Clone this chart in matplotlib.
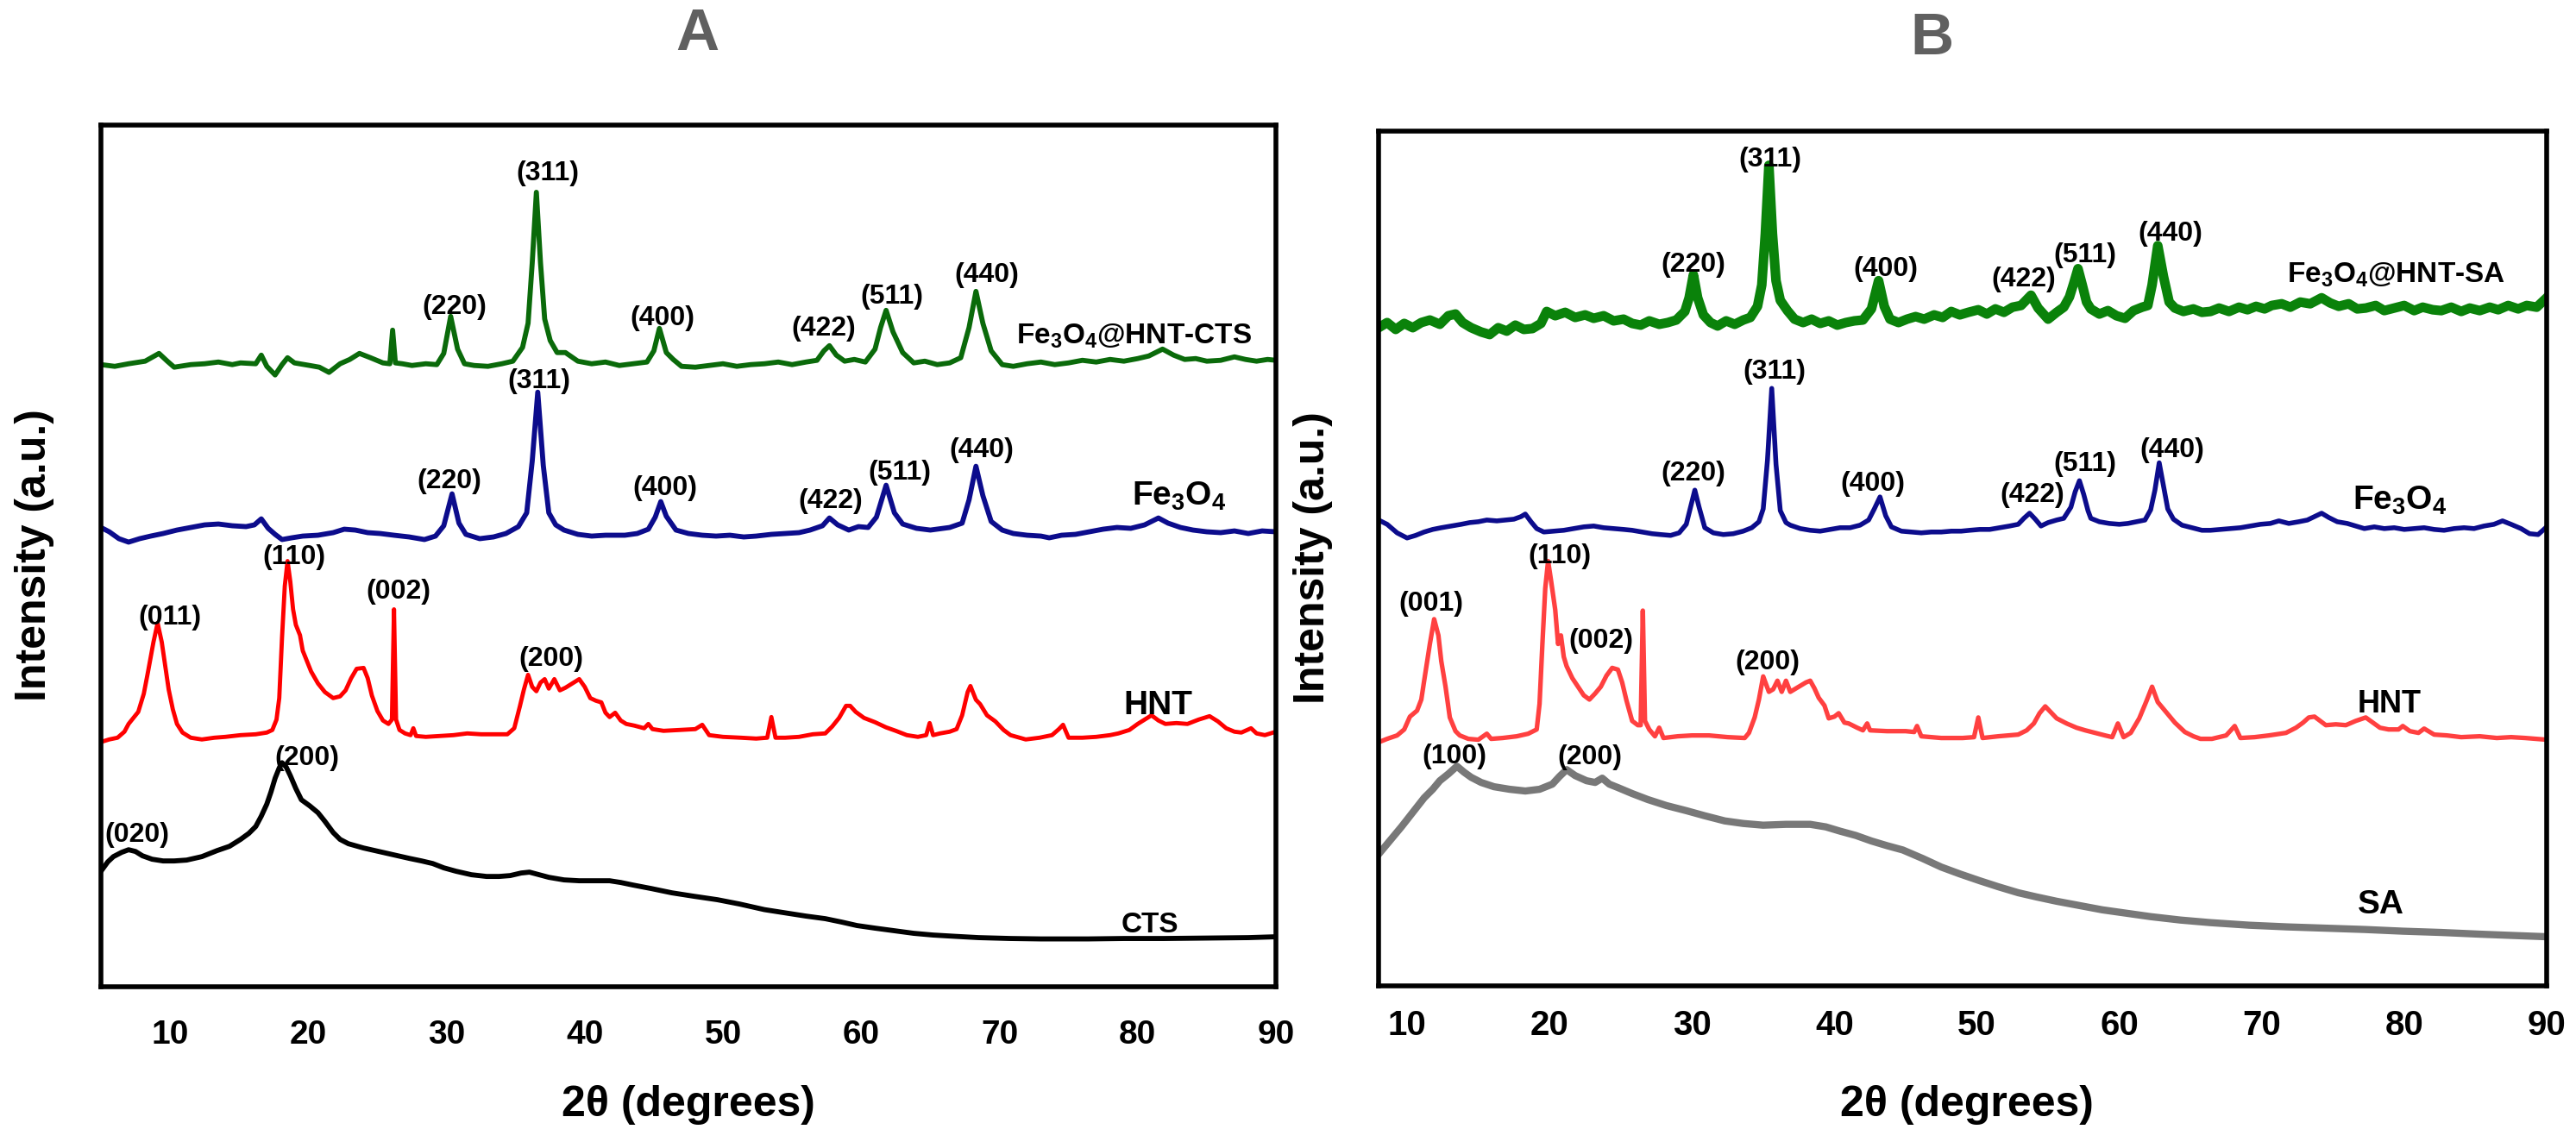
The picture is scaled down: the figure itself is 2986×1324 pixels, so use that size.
import numpy as np
import matplotlib
matplotlib.use('Agg')
import matplotlib.pyplot as plt

plt.rcParams['font.family'] = ['Liberation Sans', 'DejaVu Sans']
plt.rcParams['font.weight'] = 'bold'
plt.rcParams['mathtext.default'] = 'regular'

# ---- panel A : (2theta, intensity a.u.) ----
green_A = np.array([
    (5.0, 72.2), (6.0, 72.0), (7.0, 72.3), (8.2, 72.6), (9.2, 73.5), (9.8, 72.6), (10.3, 71.9),
    (11.5, 72.2), (12.5, 72.3), (13.5, 72.5), (14.5, 72.2), (15.1, 72.4), (16.2, 72.3), (16.6, 73.3),
    (17.0, 72.0), (17.6, 71.0), (18.1, 72.2), (18.5, 73.0), (19.0, 72.4), (20.1, 72.1), (20.8, 71.9),
    (21.5, 71.3), (22.3, 72.3), (23.0, 72.8), (23.7, 73.5), (24.5, 73.0), (25.4, 72.4), (25.9, 72.3),
    (26.1, 76.2), (26.3, 72.4), (26.8, 72.3), (27.5, 72.1), (28.5, 72.3), (29.3, 72.2), (29.8, 73.5),
    (30.3, 77.8), (30.8, 74.0), (31.3, 72.3), (32.0, 72.1), (33.0, 72.0), (34.0, 72.3), (34.8, 72.6),
    (35.5, 74.2), (35.9, 77.0), (36.2, 84.0), (36.5, 92.2), (36.8, 84.0), (37.1, 77.5), (37.5, 75.0),
    (38.0, 73.6), (38.6, 73.6), (39.5, 72.6), (40.5, 72.3), (41.5, 72.5), (42.5, 72.1), (43.5, 72.3),
    (44.5, 72.5), (45.0, 73.8), (45.4, 76.4), (45.9, 73.6), (46.4, 72.8), (47.0, 72.0), (48.0, 71.9),
    (49.0, 72.1), (50.0, 72.3), (51.0, 72.0), (52.0, 72.2), (53.0, 72.3), (54.0, 72.5), (55.0, 72.2),
    (56.0, 72.5), (56.8, 72.7), (57.3, 73.8), (57.7, 74.4), (58.2, 73.3), (58.8, 72.6), (59.5, 72.8),
    (60.3, 72.5), (61.0, 74.0), (61.4, 76.5), (61.8, 78.5), (62.3, 76.0), (63.0, 73.6), (63.8, 72.4),
    (64.6, 72.6), (65.5, 72.2), (66.4, 72.4), (67.2, 73.0), (67.8, 76.5), (68.3, 80.7), (68.8, 77.0),
    (69.4, 73.8), (70.2, 72.2), (71.0, 72.0), (72.0, 72.3), (73.0, 72.5), (74.0, 72.2), (75.0, 72.4),
    (76.0, 72.7), (77.0, 72.5), (78.0, 72.8), (79.0, 72.6), (80.0, 72.9), (80.8, 73.2), (81.8, 74.0),
    (82.6, 73.3), (83.4, 72.8), (84.2, 72.9), (85.0, 72.6), (86.0, 72.7), (87.0, 73.1), (87.8, 72.8),
    (88.6, 72.6), (89.4, 72.8), (90.0, 72.7)])

blue_A = np.array([
    (5.0, 53.3), (5.6, 52.8), (6.3, 52.0), (7.0, 51.6), (7.8, 52.0), (8.6, 52.3), (9.5, 52.6),
    (10.5, 53.0), (11.5, 53.3), (12.5, 53.6), (13.5, 53.7), (14.5, 53.5), (15.5, 53.4), (16.1, 53.6),
    (16.6, 54.3), (17.1, 53.2), (17.6, 52.5), (18.1, 51.9), (18.8, 52.1), (19.6, 52.3), (20.7, 52.4),
    (21.8, 52.7), (22.6, 53.1), (23.4, 53.0), (24.3, 52.7), (25.2, 52.6), (26.2, 52.4), (27.3, 52.2),
    (28.4, 51.9), (29.2, 52.3), (29.8, 53.5), (30.4, 57.2), (30.9, 53.8), (31.4, 52.5), (32.4, 52.0),
    (33.4, 52.2), (34.3, 52.6), (35.2, 53.4), (35.8, 55.0), (36.2, 61.0), (36.6, 69.0), (37.0, 60.5),
    (37.4, 55.0), (37.9, 53.6), (38.5, 53.0), (39.5, 52.5), (40.5, 52.3), (41.5, 52.4), (42.9, 52.4),
    (43.8, 52.6), (44.6, 53.1), (45.1, 54.5), (45.5, 56.3), (45.9, 54.6), (46.6, 53.0), (47.5, 52.6),
    (48.5, 52.4), (49.5, 52.3), (50.5, 52.4), (51.5, 52.2), (52.4, 52.3), (53.5, 52.5), (54.5, 52.6),
    (55.5, 52.7), (56.3, 53.0), (57.2, 53.5), (57.7, 54.4), (58.3, 53.6), (59.1, 53.0), (59.8, 53.4),
    (60.5, 53.3), (61.1, 54.5), (61.8, 58.2), (62.4, 55.0), (63.0, 53.7), (64.0, 53.2), (65.0, 53.0),
    (66.4, 53.3), (67.3, 53.8), (67.8, 56.5), (68.3, 60.4), (68.8, 57.0), (69.4, 54.0), (70.2, 53.0),
    (71.0, 52.6), (72.0, 52.4), (73.0, 52.3), (73.6, 52.1), (74.5, 52.4), (75.5, 52.5), (76.5, 52.8),
    (77.5, 53.1), (78.5, 53.3), (79.5, 53.2), (80.5, 53.6), (81.5, 54.4), (82.2, 53.8), (83.1, 53.3),
    (84.0, 53.0), (85.0, 52.8), (86.0, 52.7), (87.0, 52.9), (88.0, 52.6), (89.0, 52.9), (90.0, 52.8)])

red_A = np.array([
    (5.0, 28.4), (5.6, 28.7), (6.2, 28.9), (6.7, 29.6), (7.0, 30.5), (7.4, 31.3), (7.7, 31.9),
    (8.1, 34.0), (8.4, 36.5), (8.8, 40.0), (9.1, 42.2), (9.4, 40.0), (9.6, 37.8), (9.9, 34.5),
    (10.2, 32.2), (10.5, 30.5), (10.9, 29.5), (11.5, 28.9), (12.3, 28.7), (13.2, 28.9), (14.0, 29.0),
    (15.1, 29.2), (16.2, 29.3), (17.0, 29.5), (17.4, 29.8), (17.7, 31.0), (17.9, 33.5), (18.1, 40.5),
    (18.3, 46.5), (18.5, 49.4), (18.7, 47.0), (18.9, 43.8), (19.1, 42.0), (19.4, 40.8), (19.6, 39.0),
    (19.8, 38.2), (20.2, 36.6), (20.7, 35.2), (21.2, 34.2), (21.8, 33.5), (22.3, 33.7), (22.7, 34.4),
    (23.1, 35.8), (23.5, 36.9), (24.0, 37.0), (24.3, 35.8), (24.6, 33.8), (25.0, 32.0), (25.4, 30.9),
    (25.8, 30.5), (26.05, 31.0), (26.2, 43.8), (26.35, 31.0), (26.6, 29.8), (27.0, 29.4), (27.4, 29.2),
    (27.6, 30.0), (27.8, 29.1), (28.5, 29.0), (29.5, 29.1), (30.5, 29.2), (31.5, 29.4), (32.5, 29.3),
    (33.5, 29.3), (34.4, 29.3), (34.9, 30.0), (35.3, 32.5), (35.6, 34.5), (35.9, 36.2), (36.2, 34.8),
    (36.5, 34.3), (36.8, 35.3), (37.1, 35.7), (37.4, 34.6), (37.8, 35.7), (38.2, 34.4), (38.6, 34.7),
    (39.1, 35.2), (39.6, 35.7), (40.0, 34.8), (40.4, 33.5), (40.8, 33.2), (41.2, 33.0), (41.5, 31.8),
    (41.8, 31.3), (42.2, 31.8), (42.6, 30.9), (43.0, 30.5), (43.6, 30.3), (44.3, 30.0), (44.6, 30.5),
    (44.9, 29.9), (45.7, 29.7), (46.8, 29.8), (48.0, 29.9), (48.5, 30.4), (49.0, 29.2), (50.0, 29.0),
    (51.3, 28.9), (52.4, 28.8), (53.2, 28.9), (53.5, 31.3), (53.8, 28.9), (54.5, 28.9), (55.5, 29.0),
    (56.5, 29.3), (57.4, 29.4), (57.9, 30.2), (58.4, 31.2), (58.9, 32.6), (59.2, 32.6), (59.6, 31.9),
    (60.2, 31.2), (61.0, 30.7), (61.8, 30.1), (62.5, 29.7), (63.3, 29.2), (64.1, 29.0), (64.7, 29.2),
    (64.95, 30.6), (65.2, 29.2), (65.7, 29.4), (66.4, 29.6), (66.9, 29.9), (67.3, 31.5), (67.7, 34.2),
    (67.9, 34.9), (68.3, 33.3), (68.6, 32.8), (69.1, 31.5), (69.7, 30.8), (70.3, 29.8), (70.8, 29.2),
    (71.9, 28.7), (72.9, 28.9), (73.8, 29.2), (74.3, 29.9), (74.6, 30.4), (75.0, 28.9), (76.0, 28.9),
    (77.0, 29.0), (78.0, 29.2), (78.6, 29.4), (79.4, 29.8), (80.0, 30.5), (80.5, 31.0), (81.0, 31.5),
    (81.5, 30.9), (82.0, 30.5), (82.8, 30.6), (83.6, 30.5), (84.4, 31.0), (85.2, 31.4), (85.8, 30.8),
    (86.4, 30.0), (87.0, 29.6), (87.5, 29.5), (88.2, 30.0), (88.6, 29.4), (89.2, 29.2), (90.0, 29.6)])

black_A = np.array([
    (5.0, 13.4), (5.5, 14.5), (5.9, 15.1), (6.5, 15.6), (7.0, 15.9), (7.5, 15.7), (8.0, 15.2),
    (8.7, 14.8), (9.5, 14.6), (10.3, 14.6), (11.2, 14.7), (12.3, 15.1), (13.4, 15.8), (14.3, 16.3),
    (15.1, 17.1), (15.7, 17.8), (16.2, 18.6), (16.6, 19.8), (17.0, 21.2), (17.3, 22.6), (17.6, 24.2),
    (17.9, 25.4), (18.1, 26.0), (18.4, 25.5), (18.7, 24.5), (19.1, 23.0), (19.5, 21.7), (20.1, 21.0),
    (20.7, 20.2), (21.2, 19.2), (21.8, 17.9), (22.3, 17.1), (22.9, 16.6), (24.0, 16.1), (25.1, 15.7),
    (26.2, 15.3), (27.3, 14.9), (28.2, 14.6), (29.0, 14.3), (29.8, 13.8), (30.7, 13.4), (31.8, 13.0),
    (32.9, 12.8), (33.8, 12.8), (34.6, 12.9), (35.4, 13.2), (36.0, 13.3), (36.7, 13.0), (37.4, 12.7),
    (38.5, 12.4), (39.6, 12.3), (40.7, 12.3), (41.8, 12.3), (42.6, 12.1), (43.5, 11.8), (44.8, 11.4),
    (46.3, 10.9), (47.9, 10.5), (49.6, 10.1), (51.2, 9.6), (53.0, 8.95), (54.8, 8.5), (56.0, 8.2),
    (57.4, 7.9), (58.6, 7.5), (59.7, 7.1), (61.0, 6.8), (62.4, 6.5), (63.8, 6.2), (65.2, 6.0),
    (66.8, 5.85), (68.5, 5.7), (70.8, 5.6), (73.0, 5.55), (76.4, 5.55), (79.0, 5.6), (81.9, 5.6),
    (85.0, 5.65), (88.0, 5.7), (90.0, 5.8)])

# ---- panel B ----
green_B = np.array([
    (8.0, 77.0), (8.6, 77.6), (9.2, 76.8), (9.8, 77.5), (10.4, 77.0), (11.0, 77.6), (11.6, 77.9),
    (12.3, 77.4), (12.9, 78.4), (13.4, 78.6), (13.9, 77.6), (14.5, 77.0), (15.2, 76.5), (15.8, 76.2),
    (16.4, 77.0), (17.0, 76.6), (17.6, 77.3), (18.2, 76.8), (18.8, 76.9), (19.4, 77.5), (19.8, 78.9),
    (20.4, 78.4), (21.1, 78.8), (21.8, 78.2), (22.5, 78.5), (23.1, 78.1), (23.8, 78.4), (24.5, 77.8),
    (25.2, 78.0), (25.8, 77.5), (26.4, 77.3), (27.0, 77.8), (27.7, 77.4), (28.3, 77.6), (28.9, 77.9),
    (29.5, 78.9), (29.8, 80.5), (30.1, 83.2), (30.4, 80.5), (30.8, 78.5), (31.3, 77.6), (31.8, 77.2),
    (32.4, 77.8), (33.0, 77.4), (33.6, 77.9), (34.1, 78.2), (34.6, 79.5), (34.9, 82.0), (35.15, 88.0),
    (35.4, 96.0), (35.65, 88.0), (35.9, 82.5), (36.2, 80.2), (36.7, 79.0), (37.2, 78.0), (37.8, 77.6),
    (38.4, 78.0), (39.0, 77.5), (39.6, 77.8), (40.2, 77.3), (40.8, 77.6), (41.4, 77.8), (42.0, 77.9),
    (42.6, 79.2), (43.1, 82.5), (43.5, 79.5), (43.9, 78.0), (44.5, 77.6), (45.1, 78.0), (45.7, 78.3),
    (46.3, 78.0), (47.0, 78.5), (47.6, 78.2), (48.2, 78.9), (48.8, 78.5), (49.4, 78.8), (50.1, 79.1),
    (50.7, 78.6), (51.3, 79.2), (51.9, 78.8), (52.5, 79.4), (53.1, 79.6), (53.8, 80.8), (54.3, 79.3),
    (55.0, 78.0), (55.6, 78.8), (56.1, 79.4), (56.5, 80.6), (56.8, 82.2), (57.1, 83.9), (57.4, 82.0),
    (57.7, 80.0), (58.0, 79.2), (58.6, 78.6), (59.2, 79.0), (59.8, 78.4), (60.4, 78.1), (61.0, 79.0),
    (61.6, 79.4), (62.0, 79.6), (62.3, 82.0), (62.7, 86.6), (63.1, 83.0), (63.5, 80.0), (63.9, 79.3),
    (64.5, 78.9), (65.2, 79.2), (65.8, 78.8), (66.4, 78.9), (67.0, 79.3), (67.7, 78.9), (68.4, 79.4),
    (69.0, 79.1), (69.6, 79.5), (70.2, 79.2), (70.7, 79.6), (71.4, 79.8), (72.0, 79.4), (72.7, 80.0),
    (73.4, 79.8), (74.2, 80.5), (74.8, 79.9), (75.4, 79.5), (76.1, 79.8), (76.7, 79.2), (77.3, 79.3),
    (78.0, 79.6), (78.6, 79.0), (79.3, 79.3), (80.0, 79.6), (80.7, 79.0), (81.3, 79.4), (82.0, 79.1),
    (82.6, 79.0), (83.3, 79.4), (84.0, 78.9), (84.6, 79.3), (85.3, 79.0), (86.0, 79.4), (86.6, 79.1),
    (87.3, 79.6), (88.0, 79.2), (88.6, 79.6), (89.3, 79.4), (90.0, 80.5)])

blue_B = np.array([
    (8.0, 54.5), (8.6, 54.0), (9.3, 53.0), (10.0, 52.4), (10.6, 52.7), (11.2, 53.1), (11.8, 53.4),
    (12.4, 53.6), (13.1, 53.8), (13.8, 54.0), (14.4, 54.2), (15.0, 54.3), (15.6, 54.5), (16.3, 54.4),
    (16.9, 54.5), (17.5, 54.6), (18.0, 54.9), (18.3, 55.2), (18.7, 54.3), (19.1, 53.5), (19.6, 53.1),
    (20.3, 53.2), (21.0, 53.3), (21.7, 53.5), (22.4, 53.7), (23.1, 53.8), (23.8, 53.6), (24.5, 53.5),
    (25.2, 53.4), (25.8, 53.3), (26.5, 53.1), (27.2, 52.9), (27.8, 52.8), (28.5, 52.7), (29.1, 53.0),
    (29.6, 54.0), (29.9, 56.0), (30.2, 58.0), (30.5, 56.0), (30.9, 53.6), (31.5, 53.0), (32.2, 52.8),
    (32.9, 52.9), (33.6, 53.2), (34.2, 53.6), (34.7, 54.3), (35.0, 55.8), (35.3, 61.5), (35.6, 69.9),
    (35.9, 61.0), (36.2, 55.6), (36.6, 54.2), (36.9, 53.9), (37.6, 53.5), (38.3, 53.3), (39.0, 53.2),
    (39.7, 53.4), (40.4, 53.6), (41.1, 53.6), (41.8, 53.9), (42.4, 54.5), (42.8, 55.8), (43.2, 57.2),
    (43.6, 55.0), (44.0, 53.7), (44.7, 53.2), (45.4, 53.1), (46.1, 53.0), (46.8, 53.1), (47.5, 53.1),
    (48.2, 53.2), (48.9, 53.2), (49.5, 53.3), (50.2, 53.4), (50.9, 53.4), (51.6, 53.6), (52.3, 53.8),
    (52.9, 54.0), (53.3, 54.7), (53.7, 55.3), (54.1, 54.6), (54.5, 53.8), (55.0, 54.2), (55.6, 54.5),
    (56.1, 54.7), (56.6, 56.0), (56.9, 57.8), (57.2, 59.1), (57.5, 57.5), (57.8, 55.6), (58.0, 54.7),
    (58.6, 54.3), (59.3, 54.1), (60.0, 54.0), (60.6, 54.1), (61.2, 54.3), (61.8, 54.5), (62.2, 55.7),
    (62.5, 58.0), (62.8, 61.2), (63.1, 58.5), (63.4, 55.8), (63.8, 54.6), (64.4, 53.9), (65.1, 53.6),
    (65.8, 53.3), (66.4, 53.3), (67.1, 53.4), (67.8, 53.5), (68.5, 53.6), (69.2, 53.8), (69.9, 54.0),
    (70.6, 54.1), (71.2, 54.4), (71.9, 54.1), (72.6, 54.3), (73.2, 54.5), (73.7, 54.9), (74.2, 55.3),
    (74.7, 54.8), (75.3, 54.3), (76.0, 54.1), (76.6, 53.8), (77.2, 53.5), (77.9, 53.7), (78.6, 53.5),
    (79.3, 53.6), (80.0, 53.4), (80.7, 53.5), (81.4, 53.6), (82.1, 53.4), (82.8, 53.3), (83.5, 53.5),
    (84.2, 53.6), (84.9, 53.5), (85.6, 53.8), (86.3, 54.0), (86.9, 54.4), (87.5, 54.0), (88.2, 53.5),
    (88.8, 52.9), (89.4, 52.8), (90.0, 53.7)])

red_B = np.array([
    (8.0, 28.5), (8.6, 28.9), (9.3, 29.3), (9.8, 30.0), (10.2, 31.5), (10.7, 32.2), (11.0, 33.5),
    (11.2, 35.7), (11.6, 40.0), (11.9, 42.9), (12.2, 41.0), (12.4, 38.0), (12.7, 35.0), (13.0, 31.4),
    (13.4, 29.8), (13.7, 29.3), (14.3, 28.9), (15.0, 28.8), (15.6, 29.5), (15.9, 28.9), (16.7, 29.0),
    (17.7, 29.2), (18.5, 29.5), (19.1, 30.0), (19.3, 33.0), (19.5, 40.0), (19.7, 46.5), (19.9, 49.7),
    (20.1, 47.5), (20.4, 44.0), (20.6, 40.0), (20.8, 41.0), (21.0, 38.5), (21.2, 37.4), (21.6, 36.0),
    (22.0, 35.0), (22.4, 34.0), (22.8, 33.5), (23.2, 34.2), (23.6, 35.0), (24.0, 36.3), (24.4, 37.2),
    (24.8, 37.0), (25.1, 35.5), (25.4, 33.4), (25.8, 31.0), (26.2, 30.5), (26.4, 30.5), (26.55, 43.9),
    (26.7, 31.0), (27.0, 30.0), (27.4, 29.2), (27.7, 30.2), (28.0, 29.0), (29.0, 29.2), (30.0, 29.3),
    (31.2, 29.3), (32.5, 29.1), (33.7, 29.0), (34.0, 29.6), (34.4, 31.4), (34.7, 33.5), (35.0, 36.2),
    (35.4, 34.4), (35.7, 34.7), (36.0, 35.7), (36.3, 34.4), (36.6, 35.7), (36.9, 34.4), (37.5, 35.0),
    (38.0, 35.5), (38.3, 35.7), (38.6, 34.8), (38.9, 33.7), (39.3, 32.8), (39.6, 31.3), (40.0, 31.5),
    (40.3, 31.9), (40.7, 30.8), (41.0, 30.7), (41.6, 30.2), (42.0, 29.9), (42.3, 30.7), (42.5, 29.9),
    (43.7, 29.8), (45.0, 29.8), (45.6, 29.7), (45.8, 30.4), (46.1, 29.2), (47.5, 29.0), (49.0, 29.0),
    (49.8, 29.1), (50.1, 31.4), (50.4, 29.0), (51.5, 29.2), (52.9, 29.4), (53.5, 29.9), (54.0, 30.7),
    (54.4, 31.9), (54.8, 32.7), (55.2, 32.0), (55.6, 31.3), (56.3, 30.7), (57.0, 30.2), (57.6, 29.9),
    (58.3, 29.6), (59.0, 29.3), (59.5, 29.1), (59.9, 30.7), (60.3, 29.1), (60.8, 29.6), (61.4, 31.3),
    (61.9, 33.3), (62.3, 35.0), (62.7, 33.2), (63.3, 32.0), (63.9, 30.8), (64.6, 29.7), (65.2, 29.2),
    (65.7, 28.9), (66.5, 28.9), (67.5, 29.3), (68.1, 30.4), (68.5, 29.0), (69.5, 29.1), (70.5, 29.3),
    (71.7, 29.6), (72.4, 30.2), (72.9, 30.8), (73.3, 31.4), (73.7, 31.5), (74.1, 31.0), (74.5, 30.5),
    (75.2, 30.6), (75.9, 30.5), (76.6, 31.0), (77.3, 31.4), (77.8, 30.8), (78.3, 30.2), (78.9, 30.0),
    (79.6, 30.0), (79.9, 30.4), (80.4, 29.8), (81.0, 29.6), (81.4, 30.1), (82.1, 29.4), (83.0, 29.3),
    (84.0, 29.1), (85.3, 29.2), (86.5, 29.0), (87.5, 29.1), (88.5, 29.0), (90.0, 28.8)])

gray_B = np.array([
    (8.0, 15.4), (8.8, 17.0), (9.6, 18.6), (10.4, 20.3), (11.2, 22.0), (11.8, 23.0), (12.3, 24.0),
    (12.9, 24.8), (13.5, 25.7), (14.0, 25.0), (14.5, 24.4), (15.2, 23.8), (16.1, 23.3), (17.2, 23.0),
    (18.3, 22.8), (19.3, 23.0), (20.2, 23.6), (20.7, 24.5), (21.2, 25.3), (21.8, 24.6), (22.6, 24.0),
    (23.2, 23.8), (23.7, 24.3), (24.2, 23.6), (24.8, 23.2), (25.8, 22.5), (26.9, 21.8), (28.2, 21.1),
    (29.6, 20.5), (30.9, 19.9), (32.3, 19.3), (33.6, 19.0), (35.0, 18.8), (36.6, 18.9), (38.3, 18.9),
    (39.4, 18.6), (40.4, 18.1), (41.5, 17.6), (42.6, 16.95), (43.7, 16.4), (44.8, 15.9), (46.2, 14.9),
    (47.5, 13.9), (48.8, 13.1), (50.2, 12.3), (51.5, 11.6), (52.9, 10.9), (54.2, 10.4), (55.6, 9.9),
    (57.2, 9.4), (58.8, 8.9), (60.5, 8.5), (62.2, 8.1), (64.3, 7.7), (66.4, 7.4), (69.1, 7.1),
    (71.8, 6.9), (74.5, 6.75), (77.2, 6.6), (79.9, 6.4), (82.6, 6.25), (85.3, 6.05), (87.6, 5.9),
    (90.0, 5.75)])

x_ticks = [10, 20, 30, 40, 50, 60, 70, 80, 90]

# miller indices: (text, 2theta, y)
hkl_A = [('(311)', 37.3, 94.4), ('(220)', 30.6, 78.9), ('(400)', 45.6, 77.6), ('(422)', 57.3, 76.4),
         ('(511)', 62.2, 80.1), ('(440)', 69.1, 82.6),
         ('(311)', 36.7, 70.3), ('(220)', 30.2, 58.7), ('(400)', 45.8, 57.85), ('(422)', 57.8, 56.35),
         ('(511)', 62.8, 59.7), ('(440)', 68.7, 62.3),
         ('(011)', 10.0, 42.8), ('(110)', 19.0, 49.8), ('(002)', 26.5, 45.8), ('(200)', 37.6, 38.0),
         ('(020)', 7.6, 17.6), ('(200)', 19.9, 26.5)]
hkl_B = [('(311)', 35.5, 96.7), ('(220)', 30.1, 84.4), ('(400)', 43.6, 83.9), ('(422)', 53.3, 82.6),
         ('(511)', 57.6, 85.5), ('(440)', 63.6, 88.0),
         ('(311)', 35.8, 71.8), ('(220)', 30.1, 59.9), ('(400)', 42.7, 58.7), ('(422)', 53.9, 57.4),
         ('(511)', 57.6, 61.0), ('(440)', 63.7, 62.7),
         ('(001)', 11.7, 44.7), ('(110)', 20.7, 50.3), ('(002)', 23.6, 40.4), ('(200)', 35.3, 37.8),
         ('(100)', 13.3, 26.8), ('(200)', 22.8, 26.7)]

W, H = 2986, 1324
fig = plt.figure(figsize=(W / 100, H / 100), dpi=100)


def px_axes(l, t, r, b):
    return [l / W, 1 - b / H, (r - l) / W, (b - t) / H]


axA = fig.add_axes(px_axes(117, 145, 1479, 1144))
axB = fig.add_axes(px_axes(1598, 152, 2952, 1143))

axA.plot(green_A[:, 0], green_A[:, 1], color='#0a6a0a', lw=4.2)
axA.plot(blue_A[:, 0], blue_A[:, 1], color='#0c0c8c', lw=4.2)
axA.plot(red_A[:, 0], red_A[:, 1], color='#ff0000', lw=3.5)
axA.plot(black_A[:, 0], black_A[:, 1], color='black', lw=4.2)

axB.plot(green_B[:, 0], green_B[:, 1], color='#0a820a', lw=8.0)
axB.plot(blue_B[:, 0], blue_B[:, 1], color='#0c0c8c', lw=4.0)
axB.plot(red_B[:, 0], red_B[:, 1], color='#ff4040', lw=3.8)
axB.plot(gray_B[:, 0], gray_B[:, 1], color='#787878', lw=6.0)

for ax, x0, pad, fs in ((axA, 5, 27.5, 28), (axB, 8, 19.5, 29)):
    ax.set_xlim(x0, 90)
    ax.set_ylim(0, 100)
    ax.set_xticks(x_ticks)
    ax.set_yticks([])
    ax.tick_params(axis='x', length=0, pad=pad, labelsize=fs)
    for lab in ax.get_xticklabels():
        lab.set_fontweight('bold')
    for s in ax.spines.values():
        s.set_linewidth(4)

for ax, labels in ((axA, hkl_A), (axB, hkl_B)):
    for t, x, y in labels:
        ax.text(x, y, t, ha='center', va='center', fontsize=23, fontweight='bold')

axA.text(71.2, 74.6, 'Fe$_3$O$_4$@HNT-CTS', fontsize=24, fontweight='bold', va='baseline')
axA.text(79.6, 55.9, 'Fe$_3$O$_4$', fontsize=28, fontweight='bold', va='baseline')
axA.text(79.0, 31.6, 'HNT', fontsize=28, fontweight='bold', va='baseline')
axA.text(78.8, 6.3, 'CTS', fontsize=24, fontweight='bold', va='baseline')

axB.text(71.8, 82.3, 'Fe$_3$O$_4$@HNT-SA', fontsize=24, fontweight='bold', va='baseline')
axB.text(76.4, 55.7, 'Fe$_3$O$_4$', fontsize=28, fontweight='bold', va='baseline')
axB.text(76.7, 32.0, 'HNT', fontsize=26, fontweight='bold', va='baseline')
axB.text(76.7, 8.5, 'SA', fontsize=28, fontweight='bold', va='baseline')

# axis titles and panel letters
for cx, ylx, ylc in ((798, 40, 644), (2280, 1522, 647)):
    fig.text(cx / W, 1 - 1281 / H, '2θ (degrees)', ha='center', va='center',
             fontsize=36, fontweight='bold')
    fig.text(ylx / W, 1 - ylc / H, 'Intensity (a.u.)', ha='center', va='center',
             rotation=90, fontsize=36, fontweight='bold')

fig.text(808 / W, 1 - 40 / H, 'A', ha='center', va='center', fontsize=50,
         fontweight='bold', color='#606060')
fig.text(2239 / W, 1 - 45 / H, 'B', ha='center', va='center', fontsize=50,
         fontweight='bold', color='#606060')

fig.savefig('out.png', dpi=100)
